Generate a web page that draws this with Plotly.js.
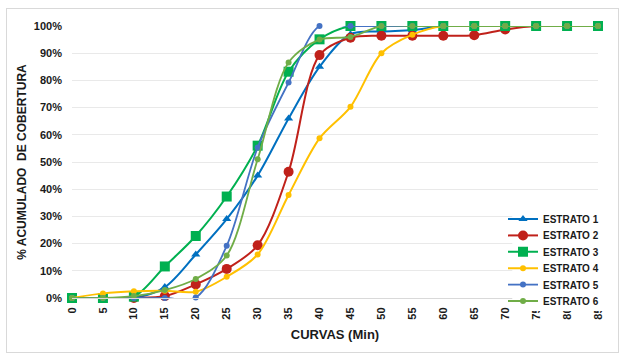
<!DOCTYPE html>
<html>
<head>
<meta charset="utf-8">
<script src="https://cdn.plot.ly/plotly-3.0.1.min.js"></script>
<style>
html,body{margin:0;padding:0;background:#fff;}
#wrap{position:relative;width:626px;height:362px;}
#chart{position:absolute;left:0;top:0;width:626px;height:362px;}
#frame{position:absolute;left:6px;top:8px;width:611px;height:343px;border:1px solid #d9d9d9;pointer-events:none;}
</style>
</head>
<body>
<div id="wrap"><div id="chart"></div><div id="frame"></div></div>
<script>
const categories = ["0","5","10","15","20","25","30","35","40","45","50","55","60","65","70","75","80","85"];
const estrato1 = [0, 0, 0, 0.04, 0.16, 0.29, 0.45, 0.66, 0.85, 0.97, 0.98, 0.985, 1, 1, 1, 1, 1, 1];
const estrato2 = [0, 0, 0, 0.007, 0.05, 0.107, 0.194, 0.464, 0.893, 0.957, 0.964, 0.964, 0.964, 0.966, 0.987, 1, 1, 1];
const estrato3 = [0, 0, 0.005, 0.116, 0.228, 0.373, 0.56, 0.832, 0.951, 1, 1, 1, 1, 1, 1, 1, 1, 1];
const estrato4 = [0, 0.017, 0.025, 0.027, 0.023, 0.078, 0.16, 0.379, 0.587, 0.703, 0.90, 0.968, 1, 1, 1, 1, 1, 1];
const estrato5 = [0, 0, 0, 0, 0.002, 0.192, 0.553, 0.792, 1, 1, 1, 1, 1, 1, 1, 1, 1, 1];
const estrato6 = [0, 0, 0.007, 0.029, 0.07, 0.156, 0.51, 0.866, 0.95, 0.96, 1, 1, 1, 1, 1, 1, 1, 1];
const names = ["ESTRATO 1","ESTRATO 2","ESTRATO 3","ESTRATO 4","ESTRATO 5","ESTRATO 6"];
const series = [estrato1, estrato2, estrato3, estrato4, estrato5, estrato6];
const colors = ["#0070C0","#C0211A","#00B050","#FFC000","#4472C4","#70AD47"];
const symbols = ["triangle-up","circle","square","circle","circle","circle"];
const msizes = [8, 10, 10, 6, 6, 6];
const lwidths = [2, 2, 2, 2, 1.8, 1.8];

const legendIds = names.map((n, i) => i === 0 ? 'legend' : 'legend' + (i + 1));
const traces = series.map((s, i) => ({
  x: categories, y: s, name: names[i], type: 'scatter', mode: 'lines+markers',
  cliponaxis: false, legend: legendIds[i],
  line: {color: colors[i], width: lwidths[i], shape: 'spline', smoothing: 0.9},
  marker: {color: colors[i], symbol: symbols[i], size: msizes[i], line: {width: 0}}
}));

const font = {family: '"Liberation Sans", Arial, sans-serif', color: '#1a1a1a'};
const layout = {
  width: 626, height: 362,
  margin: {l: 72, r: 28, t: 26, b: 64},
  paper_bgcolor: '#fff', plot_bgcolor: '#fff',
  font: font,
  showlegend: true,
  xaxis: {
    type: 'category', range: [0, 17], tickangle: -90,
    showgrid: false, zeroline: false, showline: true, linecolor: '#d9d9d9', linewidth: 1,
    ticks: '', ticklabelstandoff: 4,
    tickfont: {size: 11, family: font.family, color: '#1a1a1a', weight: 'bold'},
    title: {text: '<b>CURVAS (Min)</b>', font: {size: 13, family: font.family, color: '#1a1a1a'}, standoff: 11}
  },
  yaxis: {
    range: [0, 1], dtick: 0.1, tickformat: '.0%',
    showgrid: true, gridcolor: '#e9e9e9', gridwidth: 1, zeroline: false, showline: false,
    ticks: '', ticklabelstandoff: 9,
    tickfont: {size: 11, family: font.family, color: '#1a1a1a', weight: 'bold'},
    title: {text: '<b>% ACUMULADO  DE COBERTURA</b>', font: {size: 12, family: font.family, color: '#1a1a1a'}, standoff: 4}
  },
  shapes: [{
    type: 'rect', xref: 'paper', yref: 'paper', layer: 'above',
    x0: 0.837, x1: 1.01, y0: -0.048, y1: 0.325,
    fillcolor: '#ffffff', line: {width: 0}
  }]
};
// one small legend per series, stacked to match the reference spacing
legendIds.forEach((id, i) => {
  layout[id] = {
    x: 0.8194, y: 0.2904 - i * 0.0603, xanchor: 'left', yanchor: 'middle',
    bgcolor: 'rgba(0,0,0,0)', borderwidth: 0,
    itemwidth: 30, tracegroupgap: 0,
    font: {size: 10, family: font.family, color: '#1a1a1a', weight: 'bold'}
  };
});
Plotly.newPlot('chart', traces, layout, {displayModeBar: false, staticPlot: true});
</script>
</body>
</html>
